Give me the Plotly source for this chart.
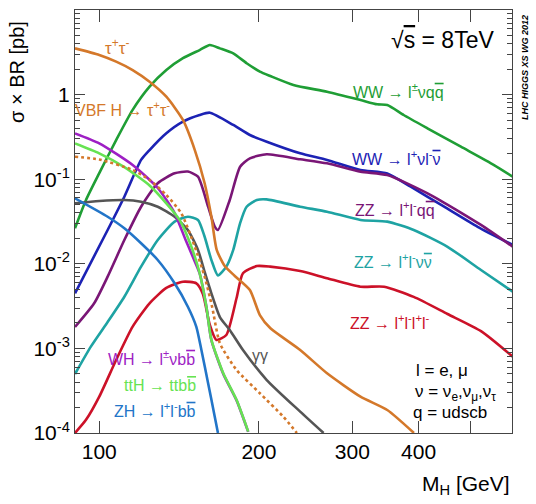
import plotly.graph_objects as go

# ---------------- data ----------------
mh_ww_lvqq = [90, 94.4, 100, 107.6, 115.6, 124.4, 133.8, 143.8, 154.6, 161.6, 168.8, 178.9, 189.6, 200.8, 210,
              232.3, 268.8, 310.8, 334.3, 349.1, 374.9, 415.6, 480.6, 555, 602]
xs_ww_lvqq = [0.0263, 0.0568, 0.118, 0.29, 0.66, 1.24, 1.95, 2.69, 3.36, 3.86, 3.52, 3.07, 2.35, 1.87, 1.66,
              1.30, 1.08, 0.863, 0.768, 0.753, 0.574, 0.40, 0.242, 0.147, 0.107]

mh_ww_lvlv = [90, 103.7, 111.5, 119.9, 124.4, 133.8, 143.8, 154.6, 161.6, 178.9, 192.3, 206.9, 239.2,
              268.8, 310.8, 349.1, 386.5, 446.9, 516.9, 602]
xs_ww_lvlv = [0.00448, 0.0251, 0.0621, 0.169, 0.221, 0.349, 0.479, 0.574, 0.611, 0.438, 0.333, 0.277, 0.202,
              0.169, 0.1285, 0.117, 0.0815, 0.0473, 0.0274, 0.0167]

mh_zz_llqq = [90, 97.8, 103.7, 111.5, 119.9, 128.9, 138.7, 146.9, 153.5, 160.4, 165.1, 167.4, 176.2, 184.3,
              192.3, 206.9, 239.2, 268.8, 310.8, 349.1, 421.7, 524.4, 602]
xs_zz_llqq = [0.00179, 0.00341, 0.00705, 0.0191, 0.0473, 0.0896, 0.1175, 0.123, 0.107, 0.0473, 0.0275, 0.0251,
              0.0568, 0.1406, 0.1766, 0.197, 0.172, 0.154, 0.1228, 0.112, 0.065, 0.0288, 0.0159]

mh_zz_llvv = [90, 96.4, 103.7, 111.5, 119.9, 128.9, 138.7, 146.9, 153.5, 158.0, 162.7, 167.4, 173.6, 178.9,
              184.3, 189.6, 198.2, 206.9, 239.2, 268.8, 310.8, 349.1, 391.6, 453.5, 524.4, 602]
xs_zz_llvv = [0.000498, 0.00105, 0.00205, 0.00408, 0.00925, 0.0191, 0.0315, 0.036, 0.033, 0.0209, 0.0111,
              0.00728, 0.00925, 0.0146, 0.0303, 0.0473, 0.0568, 0.0578, 0.0473, 0.0413, 0.033, 0.0315,
              0.0251, 0.0159, 0.00845, 0.00468]

mh_zz_4l = [90, 94.4, 100, 107.6, 115.6, 124.4, 133.8, 143.8, 152.4, 156.8, 161.6, 166.3, 173.6, 181.5,
            186.6, 198.2, 210, 239.2, 268.8, 310.8, 344.4, 391.6, 453.5, 524.4, 602]
xs_zz_4l = [0.0001, 0.000143, 0.000269, 0.00073, 0.00181, 0.00341, 0.00518, 0.00614, 0.00588, 0.0044,
            0.00189, 0.00126, 0.00144, 0.00394, 0.00773, 0.0094, 0.00925, 0.0082, 0.00675, 0.00536,
            0.00536, 0.00406, 0.00255, 0.0016, 0.000798]

mh_tautau = [90, 100, 107.6, 115.6, 124.4, 133.8, 143.8, 151.4, 158, 162.7, 166.5, 172.4, 180.1, 192.3,
             200.8, 210, 239.2, 268.8, 310.8, 349.1, 392]
xs_tautau = [3.52, 2.94, 2.45, 1.95, 1.42, 0.944, 0.501, 0.221, 0.0896, 0.036, 0.0146, 0.0094, 0.00718,
             0.0049, 0.00248, 0.00174, 0.000957, 0.000508, 0.000269, 0.000187, 0.0001]

mh_vbf_tautau = [90, 100, 115.6, 124.4, 133.8, 142.8, 151.4, 158, 163.2, 168.8, 181.5, 200.8, 222.3, 235.8]
xs_vbf_tautau = [0.1845, 0.171, 0.1285, 0.098, 0.065, 0.0395, 0.0159, 0.00705, 0.00311, 0.00115, 0.000556,
                 0.000295, 0.000156, 0.0001]

mh_wh_bb = [90, 100, 115.6, 128.9, 138.7, 145.5, 150, 154.6, 159.2, 162.7, 171.3, 181.5, 190.9]
xs_wh_bb = [0.348, 0.265, 0.147, 0.0787, 0.0398, 0.0191, 0.0122, 0.0077, 0.0031, 0.00125, 0.0005,
            0.000243, 0.000103]

mh_tth_bb = [90, 100, 111.5, 124.4, 133.8, 141.7, 148, 154.6, 159.2, 162.7, 171.3, 181.5, 190.9]
xs_tth_bb = [0.265, 0.202, 0.139, 0.0843, 0.0519, 0.033, 0.0181, 0.00778, 0.00311, 0.00126, 0.000508,
             0.000245, 0.000104]

mh_zh_bb = [90, 103.7, 111.5, 119.9, 128.9, 138.7, 146.9, 152.4, 155.8, 160.4, 165.1, 167.4]
xs_zh_bb = [0.0594, 0.036, 0.0263, 0.0175, 0.0111, 0.00588, 0.00311, 0.0018, 0.000957, 0.000387,
            0.000156, 0.0001]

mh_gamgam = [90, 100, 111.5, 119.9, 128.9, 138.7, 146.9, 153.5, 158, 162.7, 168.8, 176.2, 186.6, 206.9,
             239.2, 264.8]
xs_gamgam = [0.0519, 0.0552, 0.0568, 0.0542, 0.0473, 0.036, 0.0251, 0.0146, 0.008, 0.00448, 0.00235,
             0.00165, 0.000957, 0.000423, 0.000179, 0.0001]

x_tickvals = [100, 200, 300, 400, 500]
x_ticktext = ["100", "200", "300", "400", ""]
y_tickvals = [1e-4, 1e-3, 1e-2, 1e-1, 1, 10]
y_ticktext = ["10<sup>-4</sup>", "10<sup>-3</sup>", "10<sup>-2</sup>", "10<sup>-1</sup>", "1", "10"]

# ---------------- styling ----------------
C_WWQQ = "#1f9e35"
C_WWLL = "#1c22b4"
C_ZZQQ = "#7a1676"
C_ZZVV = "#1ea3a3"
C_ZZ4L = "#cc1128"
C_TAU = "#d4782a"
C_WH = "#9e1fc4"
C_TTH = "#66e352"
C_ZH = "#2275c8"
C_GG = "#555555"

FONT = "Liberation Sans, Arial, Helvetica, sans-serif"

series = [
    (mh_ww_lvqq, xs_ww_lvqq, C_WWQQ, "solid", "WW→lνqq"),
    (mh_ww_lvlv, xs_ww_lvlv, C_WWLL, "solid", "WW→lνlν"),
    (mh_zz_llqq, xs_zz_llqq, C_ZZQQ, "solid", "ZZ→llqq"),
    (mh_zz_llvv, xs_zz_llvv, C_ZZVV, "solid", "ZZ→llνν"),
    (mh_zz_4l, xs_zz_4l, C_ZZ4L, "solid", "ZZ→4l"),
    (mh_tautau, xs_tautau, C_TAU, "solid", "ττ"),
    (mh_gamgam, xs_gamgam, C_GG, "solid", "γγ"),
    (mh_zh_bb, xs_zh_bb, C_ZH, "solid", "ZH→llbb"),
    (mh_wh_bb, xs_wh_bb, C_WH, "solid", "WH→lνbb"),
    (mh_tth_bb, xs_tth_bb, C_TTH, "solid", "ttH→ttbb"),
    (mh_vbf_tautau, xs_vbf_tautau, C_TAU, "dot", "VBF H→ττ"),
]

fig = go.Figure()
for xs, ys, col, dash, name in series:
    fig.add_trace(go.Scatter(x=xs, y=ys, mode="lines", name=name,
                             line=dict(color=col, width=2.6, dash=dash, shape="spline", smoothing=0.6),
                             showlegend=False, hoverinfo="skip"))

# plot area in pixels: x 75..512, y 10..433
L, R, T, B = 75, 512, 10, 433
W, H = 536, 504


def P(px, py):
    return (px - L) / (R - L), (B - py) / (B - T)


def label(px, py, text, color, size=18, xanchor="center", angle=0):
    x, y = P(px, py)
    fig.add_annotation(x=x, y=y, xref="paper", yref="paper", text=text, showarrow=False,
                       xanchor=xanchor, yanchor="middle", textangle=angle,
                       font=dict(family=FONT, size=size, color=color))


def bar(s):
    return "<span style='text-decoration:overline'>" + s + "</span>"


label(117, 47, "τ<sup>+</sup>τ<sup>-</sup>", C_TAU, 17)
label(122, 109, "VBF H → τ<sup>+</sup>τ<sup>-</sup>", C_TAU, 16)
label(442, 40, "√" + bar("s") + " = 8TeV", "#000000", 23)
label(398, 91, "WW → l<sup>±</sup>νq" + bar("q"), C_WWQQ, 16)
label(396, 158, "WW → l<sup>+</sup>νl<sup>-</sup>" + bar("ν"), C_WWLL, 16)
label(395, 209, "ZZ → l<sup>+</sup>l<sup>-</sup>q" + bar("q"), C_ZZQQ, 16)
label(393, 261, "ZZ → l<sup>+</sup>l<sup>-</sup>ν" + bar("ν"), C_ZZVV, 16)
label(390, 322, "ZZ → l<sup>+</sup>l<sup>-</sup>l<sup>+</sup>l<sup>-</sup>", C_ZZ4L, 16)
label(260, 355, "γγ", C_GG, 16)
label(151, 358, "WH → l<sup>±</sup>νb" + bar("b"), C_WH, 16)
label(160, 385, "ttH → ttb" + bar("b"), C_TTH, 16)
label(155, 410, "ZH → l<sup>+</sup>l<sup>-</sup>b" + bar("b"), C_ZH, 16)
label(442, 370, "l = e, μ", "#000000", 17)
label(455, 393, "ν = ν<sub>e</sub>,ν<sub>μ</sub>,ν<sub>τ</sub>", "#000000", 17)
label(450, 412, "q = udscb", "#000000", 17)
label(525, 68, "<b><i>LHC HIGGS XS WG 2012</i></b>", "#000000", 9, angle=-90)
label(17, 72, "σ × BR [pb]", "#000000", 20, angle=-90)
label(512, 485, "M<sub>H</sub> [GeV]", "#000000", 21, xanchor="right")

minor_y = []
for d in [1e-4, 1e-3, 1e-2, 1e-1, 1]:
    for k in range(2, 10):
        minor_y.append(k * d)

fig.update_layout(
    width=W, height=H,
    margin=dict(l=L, r=W - R, t=T, b=H - B, autoexpand=False),
    paper_bgcolor="white", plot_bgcolor="white",
    font=dict(family=FONT, size=20, color="#000000"),
    showlegend=False,
)
fig.update_xaxes(type="log", range=[1.95424, 2.77815], automargin=False,
                 tickmode="array", tickvals=x_tickvals, ticktext=x_ticktext,
                 ticks="inside", ticklen=12, tickwidth=1, tickcolor="#444444",
                 showline=True, linecolor="#444444", linewidth=1, mirror="ticks",
                 showgrid=False, zeroline=False, tickfont=dict(size=21))
fig.update_yaxes(type="log", range=[-4, 1], automargin=False,
                 tickmode="array", tickvals=y_tickvals, ticktext=y_ticktext,
                 ticks="inside", ticklen=10, tickwidth=1, tickcolor="#444444",
                 minor=dict(tickmode="array", tickvals=minor_y, ticks="inside", ticklen=5,
                            tickcolor="#444444", showgrid=False),
                 showline=True, linecolor="#444444", linewidth=1, mirror="ticks",
                 showgrid=False, zeroline=False, tickfont=dict(size=21))

fig.write_html("out.html", config={"displayModeBar": False},
               post_script="document.body.style.margin='0';document.body.style.overflow='hidden';")
